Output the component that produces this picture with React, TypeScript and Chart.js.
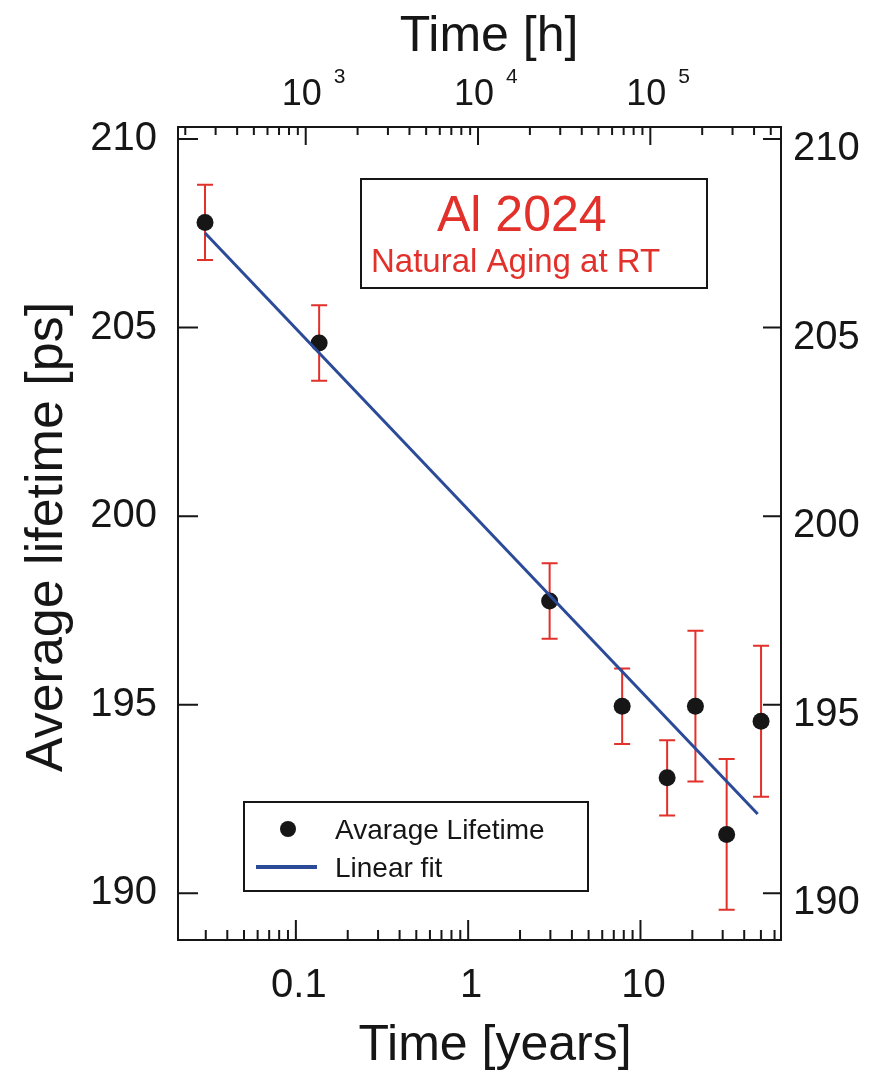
import React, { useEffect, useRef } from 'react';
import { Chart, registerables } from 'chart.js';

Chart.register(...registerables);

// ---------- data ----------
const HOURS_PER_YEAR = 8766;
const X_MIN = 0.0207;
const X_MAX = 65.4;
const Y_MIN = 188.76;
const Y_MAX = 210.32;

const AGE_YEARS = [0.0297, 0.1365, 2.97, 7.83, 14.28, 20.84, 31.64, 50.1];
const LIFETIME_PS = [207.79, 204.59, 197.75, 194.96, 193.06, 194.96, 191.56, 194.56];
const LIFETIME_ERR = [1, 1, 1, 1, 1, 2, 2, 2];

const FIT_YEARS = [0.0297, 47.9];
const FIT_PS = [207.51, 192.1];

const Y_TICK_VALUES = [190, 195, 200, 205, 210];
const YEAR_TICK_VALUES = [0.1, 1, 10];
const YEAR_TICK_LABELS = ['0.1', '1', '10'];
const HOUR_TICK_EXPONENTS = ['3', '4', '5'];

const SERIES_LABEL = 'Avarage Lifetime';
const FIT_LABEL = 'Linear fit';
const X_TITLE = 'Time [years]';
const X2_TITLE = 'Time [h]';
const Y_TITLE = 'Average lifetime [ps]';
const BOX_TITLE = 'Al 2024';
const BOX_SUBTITLE = 'Natural Aging at RT';

// ---------- styles ----------
const FONT = '"Liberation Sans", Arial, Helvetica, sans-serif';
const INK = '#161616';
const RED = '#e2302a';
const BLUE = '#2b4a98';

function logTicks(min: number, max: number) {
  const out: { value: number; major: boolean }[] = [];
  for (let e = Math.floor(Math.log10(min)); e <= Math.ceil(Math.log10(max)); e++) {
    for (let m = 1; m <= 9; m++) {
      const v = parseFloat((m * Math.pow(10, e)).toPrecision(10));
      if (v >= min && v <= max) out.push({ value: v, major: m === 1 });
    }
  }
  return out;
}

const decorPlugin = {
  id: 'decor',
  beforeDatasetsDraw(chart: any) {
    const { ctx } = chart;
    const xs = chart.scales.x;
    const ys = chart.scales.y;
    ctx.save();
    ctx.strokeStyle = RED;
    ctx.lineWidth = 2;
    AGE_YEARS.forEach((t, i) => {
      const px = xs.getPixelForValue(t);
      const top = ys.getPixelForValue(LIFETIME_PS[i] + LIFETIME_ERR[i]);
      const bot = ys.getPixelForValue(LIFETIME_PS[i] - LIFETIME_ERR[i]);
      ctx.beginPath();
      ctx.moveTo(px, top);
      ctx.lineTo(px, bot);
      ctx.moveTo(px - 8, top);
      ctx.lineTo(px + 8, top);
      ctx.moveTo(px - 8, bot);
      ctx.lineTo(px + 8, bot);
      ctx.stroke();
    });
    ctx.restore();
  },
  afterDraw(chart: any) {
    const { ctx, chartArea: a } = chart;
    const xs = chart.scales.x;
    const x2 = chart.scales.x2;
    const ys = chart.scales.y;
    ctx.save();
    // frame
    ctx.strokeStyle = INK;
    ctx.lineWidth = 2;
    ctx.strokeRect(a.left, a.top, a.right - a.left, a.bottom - a.top);
    // inward ticks
    ctx.beginPath();
    xs.ticks.forEach((t: any) => {
      const p = xs.getPixelForValue(t.value);
      ctx.moveTo(p, a.bottom);
      ctx.lineTo(p, a.bottom - (t.major ? 20 : 10));
    });
    x2.ticks.forEach((t: any) => {
      const p = x2.getPixelForValue(t.value);
      ctx.moveTo(p, a.top);
      ctx.lineTo(p, a.top + (t.major ? 18 : 8));
    });
    ys.ticks.forEach((t: any) => {
      const p = ys.getPixelForValue(t.value);
      ctx.moveTo(a.left, p);
      ctx.lineTo(a.left + 20, p);
      ctx.moveTo(a.right, p);
      ctx.lineTo(a.right - 18, p);
    });
    ctx.stroke();

    ctx.fillStyle = INK;
    // exponents of the top axis
    ctx.font = `21px ${FONT}`;
    ctx.textAlign = 'left';
    ctx.textBaseline = 'alphabetic';
    x2.ticks.filter((t: any) => t.major).forEach((t: any, i: number) => {
      const p = x2.getPixelForValue(t.value);
      ctx.fillText(HOUR_TICK_EXPONENTS[i] ?? '', p + 28, 83);
    });

    // axis titles
    ctx.font = `50px ${FONT}`;
    ctx.textAlign = 'center';
    ctx.fillText(X_TITLE, 495, 1060);
    ctx.fillText(X2_TITLE, 489, 51);
    ctx.save();
    ctx.translate(62, 537);
    ctx.rotate(-Math.PI / 2);
    ctx.font = `52px ${FONT}`;
    ctx.fillText(Y_TITLE, 0, 0);
    ctx.restore();

    // annotation box
    ctx.fillStyle = '#ffffff';
    ctx.fillRect(361, 179, 346, 109);
    ctx.strokeStyle = INK;
    ctx.lineWidth = 2;
    ctx.strokeRect(361, 179, 346, 109);
    ctx.fillStyle = RED;
    ctx.textAlign = 'left';
    ctx.font = `50px ${FONT}`;
    ctx.fillText(BOX_TITLE, 437, 231);
    ctx.font = `33px ${FONT}`;
    ctx.fillText(BOX_SUBTITLE, 371, 272);

    // legend
    ctx.fillStyle = '#ffffff';
    ctx.fillRect(244, 802, 344, 89);
    ctx.strokeRect(244, 802, 344, 89);
    ctx.fillStyle = INK;
    ctx.beginPath();
    ctx.arc(288, 829, 8, 0, Math.PI * 2);
    ctx.fill();
    ctx.strokeStyle = BLUE;
    ctx.lineWidth = 4;
    ctx.beginPath();
    ctx.moveTo(256, 867);
    ctx.lineTo(317, 867);
    ctx.stroke();
    ctx.font = `28px ${FONT}`;
    ctx.fillText(SERIES_LABEL, 335, 839);
    ctx.fillText(FIT_LABEL, 335, 877);
    ctx.restore();
  },
};

export default function App() {
  const ref = useRef<HTMLCanvasElement | null>(null);
  useEffect(() => {
    if (!ref.current) return;
    const yTicks = Y_TICK_VALUES.map((v) => ({ value: v }));
    const noGrid = { display: false, drawTicks: false, tickLength: 0 };
    const chart = new Chart(ref.current, {
      type: 'scatter',
      data: {
        datasets: [
          {
            type: 'line',
            label: FIT_LABEL,
            data: FIT_YEARS.map((x, i) => ({ x, y: FIT_PS[i] })),
            borderColor: BLUE,
            borderWidth: 3,
            pointRadius: 0,
            fill: false,
            order: 0,
          } as any,
          {
            type: 'scatter',
            label: SERIES_LABEL,
            data: AGE_YEARS.map((x, i) => ({ x, y: LIFETIME_PS[i] })),
            backgroundColor: INK,
            borderWidth: 0,
            pointRadius: 8.5,
            order: 1,
          },
        ],
      },
      options: {
        responsive: false,
        animation: false,
        layout: { padding: 0 },
        plugins: { legend: { display: false }, tooltip: { enabled: false }, title: { display: false } },
        scales: {
          x: {
            type: 'logarithmic',
            position: 'bottom',
            min: X_MIN,
            max: X_MAX,
            bounds: 'data',
            grid: noGrid,
            border: { display: false },
            afterBuildTicks: (s: any) => { s.ticks = logTicks(X_MIN, X_MAX); },
            afterFit: (s: any) => { s.height = 130; },
            ticks: {
              autoSkip: false,
              maxRotation: 0,
              padding: 22,
              labelOffset: 3,
              color: INK,
              font: { family: FONT, size: 40 },
              callback: (v: any, i: number, ticks: any[]) => {
                if (!ticks[i].major) return '';
                const k = YEAR_TICK_VALUES.findIndex((t) => Math.abs(t - v) < 1e-9);
                return k >= 0 ? YEAR_TICK_LABELS[k] : '';
              },
            },
          },
          x2: {
            type: 'logarithmic',
            position: 'top',
            min: X_MIN * HOURS_PER_YEAR,
            max: X_MAX * HOURS_PER_YEAR,
            bounds: 'data',
            grid: noGrid,
            border: { display: false },
            afterBuildTicks: (s: any) => { s.ticks = logTicks(X_MIN * HOURS_PER_YEAR, X_MAX * HOURS_PER_YEAR); },
            afterFit: (s: any) => { s.height = 127; },
            ticks: {
              autoSkip: false,
              maxRotation: 0,
              padding: 10,
              labelOffset: -4,
              color: INK,
              font: { family: FONT, size: 36 },
              callback: (v: any, i: number, ticks: any[]) => (ticks[i].major ? '10' : ''),
            },
          },
          y: {
            type: 'linear',
            position: 'left',
            min: Y_MIN,
            max: Y_MAX,
            bounds: 'data',
            grid: noGrid,
            border: { display: false },
            afterBuildTicks: (s: any) => { s.ticks = yTicks.map((t) => ({ ...t })); },
            afterFit: (s: any) => { s.width = 178; },
            ticks: {
              padding: 21,
              color: INK,
              font: { family: FONT, size: 40 },
              callback: (v: any) => String(v),
            },
          },
          y2: {
            type: 'linear',
            position: 'right',
            min: Y_MIN,
            max: Y_MAX,
            bounds: 'data',
            grid: noGrid,
            border: { display: false },
            afterBuildTicks: (s: any) => { s.ticks = yTicks.map((t) => ({ ...t })); },
            afterFit: (s: any) => { s.width = 91; },
            ticks: {
              padding: 12,
              labelOffset: 10,
              color: INK,
              font: { family: FONT, size: 40 },
              callback: (v: any) => String(v),
            },
          },
        },
      } as any,
      plugins: [decorPlugin],
    });
    return () => chart.destroy();
  }, []);
  return (
    <div style={{ position: 'absolute', left: 0, top: 0, width: 872, height: 1070, background: '#fff' }}>
      <canvas ref={ref} width={872} height={1070} style={{ display: 'block' }} />
    </div>
  );
}
